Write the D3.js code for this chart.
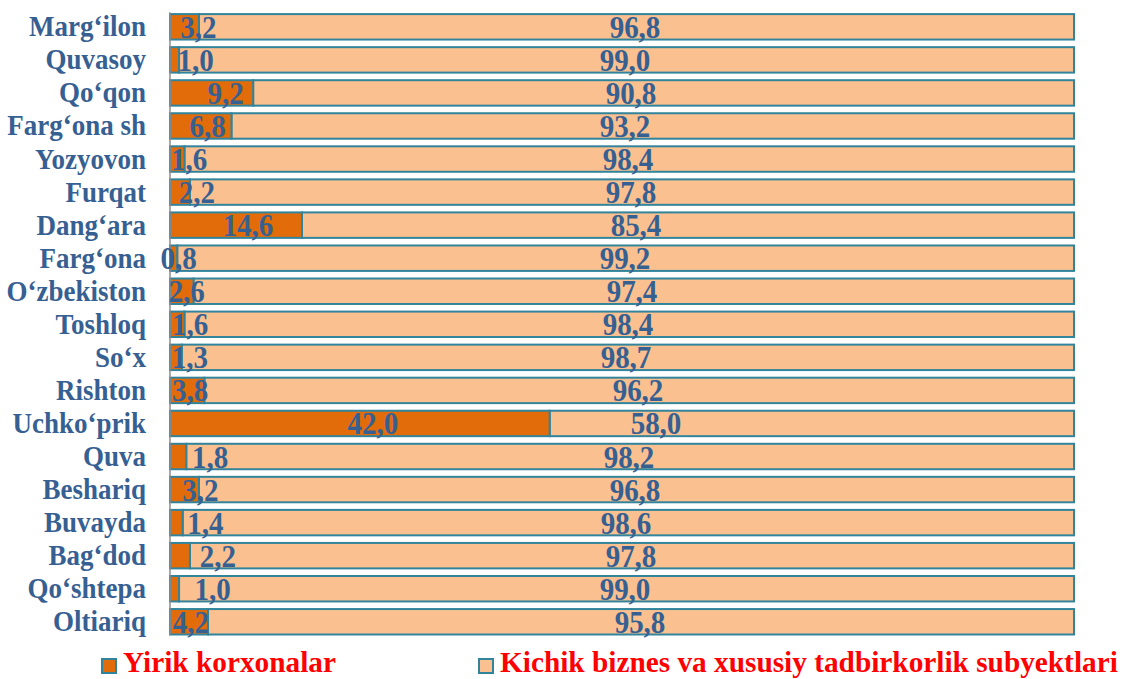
<!DOCTYPE html>
<html>
<head>
<meta charset="utf-8">
<script src="https://cdn.jsdelivr.net/npm/d3@7"></script>
<style>
  html, body { margin: 0; padding: 0; background: #ffffff; }
  svg { display: block; }
  svg text { font-family: "Liberation Serif", "Times New Roman", Tinos, serif; font-weight: bold; }
</style>
</head>
<body>
<svg id="chart" width="1122" height="679"></svg>
<script>
// ---- data ----
const categories = ["Marg‘ilon","Quvasoy","Qo‘qon","Farg‘ona sh","Yozyovon","Furqat","Dang‘ara","Farg‘ona","O‘zbekiston","Toshloq","So‘x","Rishton","Uchko‘prik","Quva","Beshariq","Buvayda","Bag‘dod","Qo‘shtepa","Oltiariq"];
const yirik  = [3.2, 1.0, 9.2, 6.8, 1.6, 2.2, 14.6, 0.8, 2.6, 1.6, 1.3, 3.8, 42.0, 1.8, 3.2, 1.4, 2.2, 1.0, 4.2];
const kichik = [96.8, 99.0, 90.8, 93.2, 98.4, 97.8, 85.4, 99.2, 97.4, 98.4, 98.7, 96.2, 58.0, 98.2, 96.8, 98.6, 97.8, 99.0, 95.8];
const seriesNames = ["Yirik korxonalar", "Kichik biznes va xususiy tadbirkorlik subyektlari"];

// label nudges (px) as placed in the original
const nudgeYirik  = [14, 21, 14, 7, 12, 17, 12, 5, 5, 13, 14, 3, 13, 32, 16, 29, 38, 38, 2];
const nudgeKichik = [13, 3, 9, 3, 6, 9, 14, 3, 10, 6, 4, 16, 34, 7, 13, 4, 9, 3, 18];

// ---- style ----
const colOrange = "#E36C0A", colLight = "#FAC090", colStroke = "#31849B";
const colText = "#376092", colLegend = "#FF0000";
const stretch = 1.07;

const svg = d3.select("#chart");
const x = d3.scaleLinear().domain([0, 100]).range([170, 1074]);
const y = d3.scaleBand().domain(categories).range([10.3, 638.3]).paddingInner(0.23).paddingOuter(0.115);

const fmt = v => d3.format(".1f")(v).replace(".", ",");
const place = (px, py) => `translate(${px},${py}) scale(1,${stretch})`;

const rows = categories.map((c, i) => ({ c, i, a: yirik[i], b: kichik[i] }));

const g = svg.append("g");
g.selectAll("rect.kichik").data(rows).join("rect")
  .attr("class", "kichik")
  .attr("x", d => x(d.a)).attr("width", d => x(d.a + d.b) - x(d.a))
  .attr("y", d => y(d.c)).attr("height", y.bandwidth())
  .attr("fill", colLight).attr("stroke", colStroke).attr("stroke-width", 2);
g.selectAll("rect.yirik").data(rows).join("rect")
  .attr("class", "yirik")
  .attr("x", x(0)).attr("width", d => x(d.a) - x(0))
  .attr("y", d => y(d.c)).attr("height", y.bandwidth())
  .attr("fill", colOrange).attr("stroke", colStroke).attr("stroke-width", 2);

// vertical axis line
svg.append("line")
  .attr("x1", x(0)).attr("x2", x(0))
  .attr("y1", y.range()[0] + 2).attr("y2", y.range()[1] - 3)
  .attr("stroke", "#8C8C8C").attr("stroke-width", 1.5);

// category labels
svg.selectAll("text.cat").data(rows).join("text")
  .attr("class", "cat")
  .attr("transform", d => place(146, y(d.c) + y.bandwidth() / 2 + 9.5))
  .attr("text-anchor", "end")
  .style("font-size", "27px")
  .attr("fill", colText)
  .text(d => d.c);

// value labels
svg.selectAll("text.va").data(rows).join("text")
  .attr("class", "va")
  .attr("transform", d => place(x(d.a / 2) + nudgeYirik[d.i], y(d.c) + y.bandwidth() / 2 + 11))
  .attr("text-anchor", "middle")
  .style("font-size", "29px")
  .attr("fill", colText)
  .text(d => fmt(d.a));
svg.selectAll("text.vb").data(rows).join("text")
  .attr("class", "vb")
  .attr("transform", d => place(x(50) + nudgeKichik[d.i], y(d.c) + y.bandwidth() / 2 + 11))
  .attr("text-anchor", "middle")
  .style("font-size", "29px")
  .attr("fill", colText)
  .text(d => fmt(d.b));

// legend
const legendX = [102, 479];
const legendFill = [colOrange, colLight];
seriesNames.forEach((name, i) => {
  svg.append("rect")
    .attr("x", legendX[i]).attr("y", 659).attr("width", 14).attr("height", 14)
    .attr("fill", legendFill[i]).attr("stroke", colStroke).attr("stroke-width", 2);
  svg.append("text")
    .attr("x", legendX[i] + 21).attr("y", 672)
    .style("font-size", "29.3px")
    .attr("fill", colLegend)
    .text(name);
});
</script>
</body>
</html>
